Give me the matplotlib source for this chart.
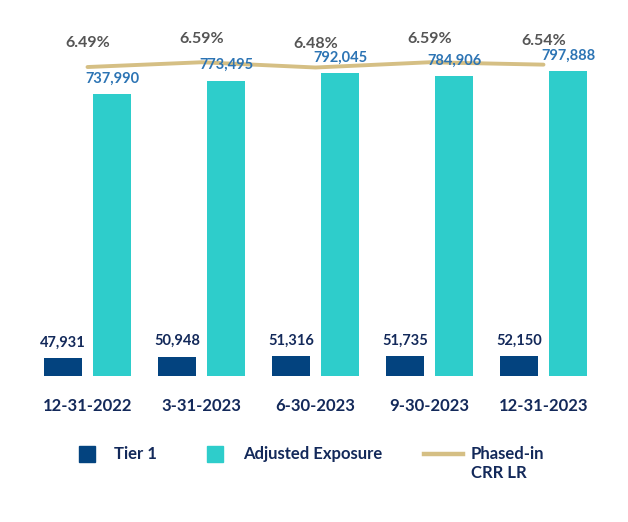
import numpy as np
import matplotlib.pyplot as plt
from matplotlib.patches import Rectangle
from matplotlib.lines import Line2D

plt.rcParams['font.family'] = ['Lato', 'DejaVu Sans']

# data
dates = ['12-31-2022', '3-31-2023', '6-30-2023', '9-30-2023', '12-31-2023']
tier1 = [47931, 50948, 51316, 51735, 52150]
exposure = [737990, 773495, 792045, 784906, 797888]
crr_lr = [6.49, 6.59, 6.48, 6.59, 6.54]

navy = '#03437F'
teal = '#2ECDCB'
tan = '#D5BF84'
txt_navy = '#13295A'
blue_lbl = '#2C74B4'
grey_lbl = '#555555'

fig = plt.figure(figsize=(6.28, 5.22), dpi=100)
fig.patch.set_facecolor('white')
ax = fig.add_axes([0.0486, 0.2797, 0.9076, 0.622])
ax2 = ax.twinx()
# bars + value labels sit above the line
ax.set_zorder(ax2.get_zorder() + 1)
ax.patch.set_visible(False)

x = np.arange(len(dates))
w = 0.333
off = 0.215

ax.bar(x - off, tier1, w, color=navy)
ax.bar(x + off, exposure, w, color=teal)
ax.set_xlim(-0.5, 4.5)
ax.set_ylim(0, 850000)
ax2.set_ylim(0, 6.82)

ax2.plot(x, crr_lr, color=tan, lw=2.8, solid_capstyle='round')

for xi, v in zip(x - off, tier1):
    ax.annotate(f'{v:,}', (xi, v), xytext=(0, 11), textcoords='offset points',
                ha='center', va='center', fontsize=10.5, fontweight='bold', color=txt_navy)
for xi, v in zip(x + off, exposure):
    ax.annotate(f'{v:,}', (xi, v), xytext=(0, 11), textcoords='offset points',
                ha='center', va='center', fontsize=10.5, fontweight='bold', color=blue_lbl)
for xi, v in zip(x, crr_lr):
    ax2.annotate(f'{v:.2f}%', (xi, v), xytext=(0, 17), textcoords='offset points',
                 ha='center', va='center', fontsize=11.5, fontweight='bold', color=grey_lbl)

ax.set_xticks(x)
ax.set_xticklabels(dates, fontsize=12, fontweight='bold', color=txt_navy)
ax.tick_params(axis='x', length=0, pad=16)
ax.set_yticks([])
ax2.set_yticks([])
for a in (ax, ax2):
    for s in a.spines.values():
        s.set_visible(False)

# legend drawn by hand to match the layout
W, H = 628, 522
def fx(px): return px / W
def fy(py): return 1 - py / H

fig.add_artist(Rectangle((fx(79), fy(462)), fx(16), 16 / H, color=navy, transform=fig.transFigure))
fig.text(fx(114), fy(454), 'Tier 1', fontsize=12, fontweight='bold', color=txt_navy, va='center')
fig.add_artist(Rectangle((fx(207), fy(462)), fx(16), 16 / H, color=teal, transform=fig.transFigure))
fig.text(fx(243), fy(454), 'Adjusted Exposure', fontsize=12, fontweight='bold', color=txt_navy, va='center')
fig.add_artist(Line2D([fx(424), fx(463)], [fy(454), fy(454)], color=tan, lw=3.2, transform=fig.transFigure))
fig.text(fx(471), fy(454), 'Phased-in', fontsize=12, fontweight='bold', color=txt_navy, va='center')
fig.text(fx(471), fy(473), 'CRR LR', fontsize=12, fontweight='bold', color=txt_navy, va='center')

fig.savefig('out.png', dpi=100)
